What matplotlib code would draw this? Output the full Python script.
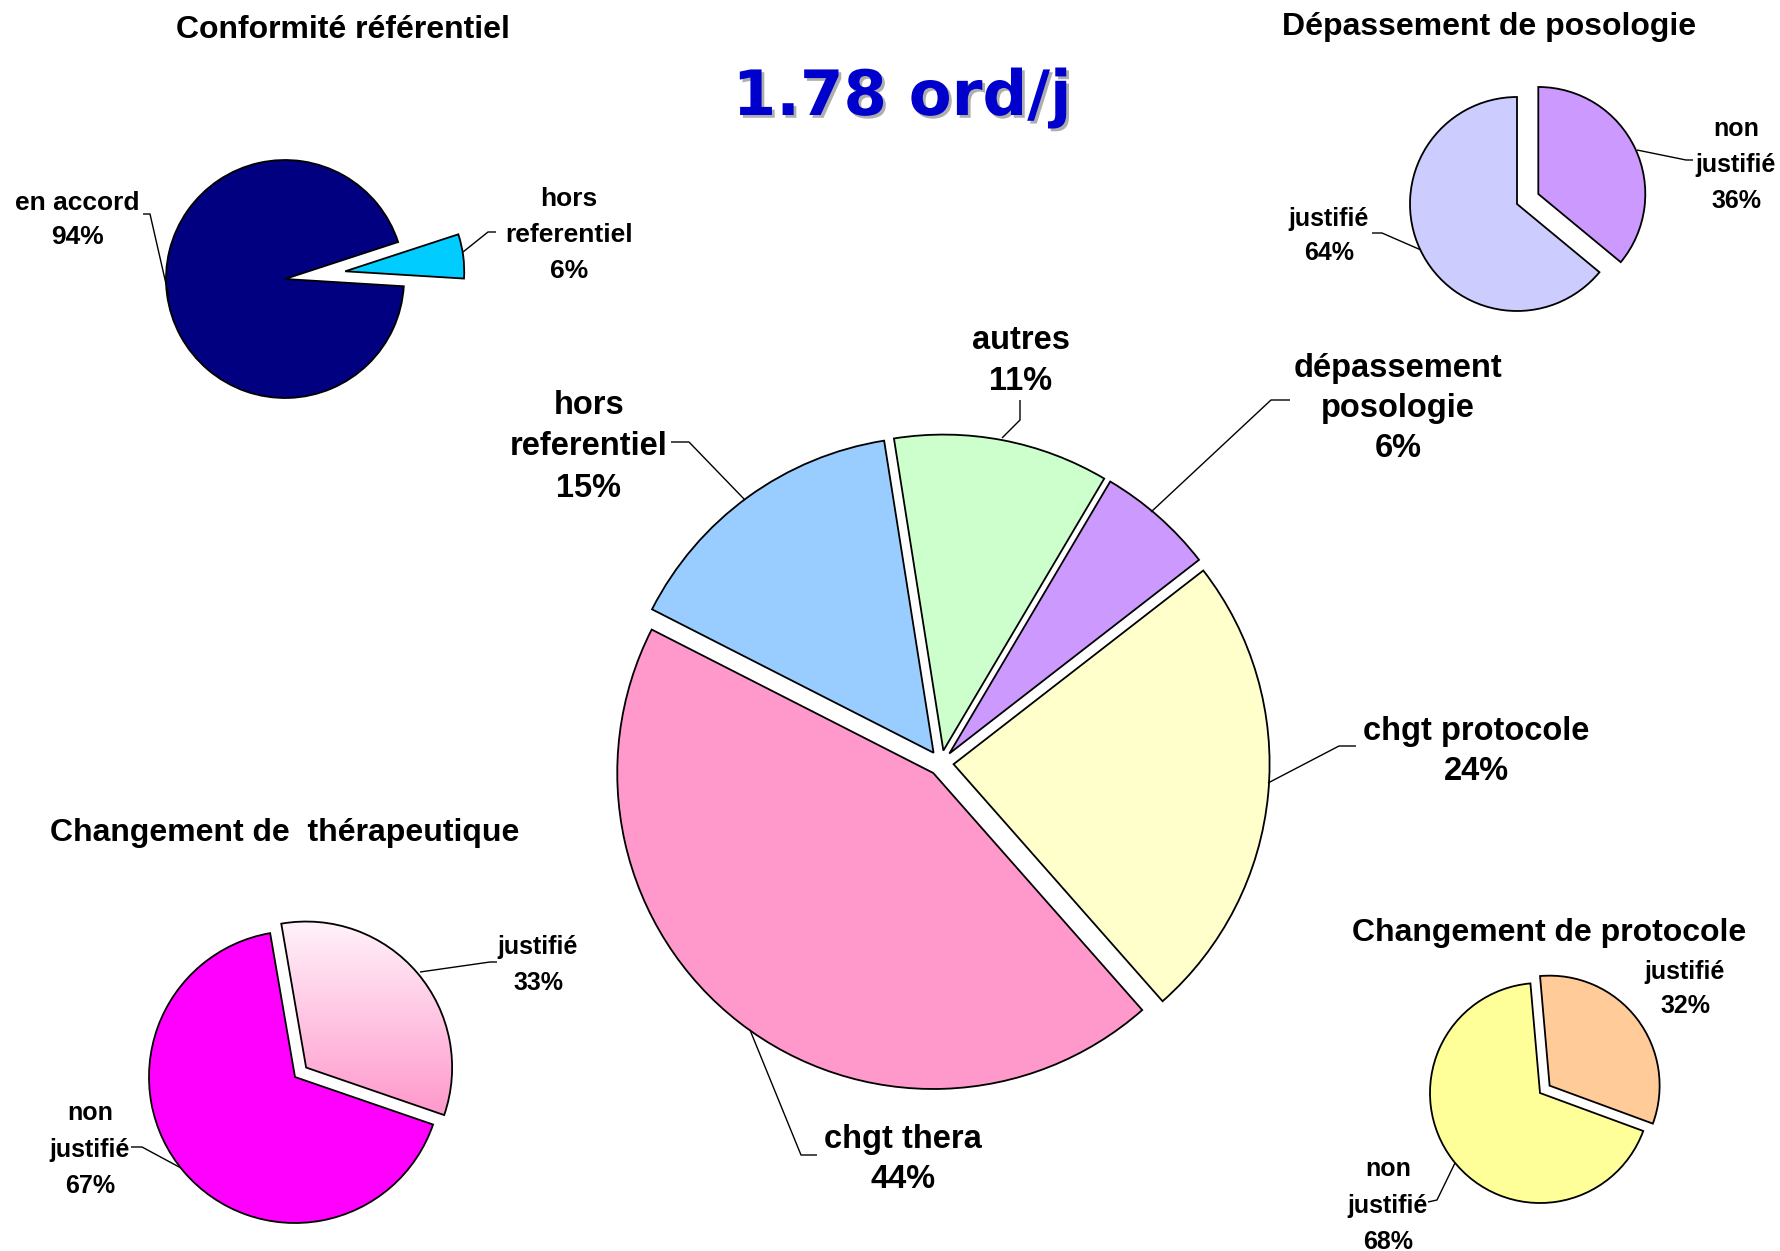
import matplotlib
matplotlib.use("Agg")
import matplotlib.pyplot as plt
import matplotlib.patheffects as pe
import numpy as np

W, H = 1780, 1251

# ---------------- data ----------------
headline = "1.78 ord/j"

main_labels = ["autres", "dépassement\nposologie", "chgt protocole", "chgt thera", "hors\nreferentiel"]
main_values = [11, 6, 24, 44, 15]
main_colors = ["#CCFFCC", "#CC99FF", "#FFFFCC", "#FF99CC", "#99CCFF"]

conf_title = "Conformité référentiel"
conf_labels = ["en accord", "hors\nreferentiel"]
conf_values = [94, 6]
conf_colors = ["#000080", "#00CCFF"]

depass_title = "Dépassement de posologie"
depass_labels = ["non\njustifié", "justifié"]
depass_values = [36, 64]
depass_colors = ["#CC99FF", "#CCCCFF"]

thera_title = "Changement de  thérapeutique"
thera_labels = ["justifié", "non\njustifié"]
thera_values = [33, 67]
thera_colors = ["#FF99CC", "#FF00FF"]
thera_gradient = ["#FFF3FA", "#FF99CC"]

proto_title = "Changement de protocole"
proto_labels = ["justifié", "non\njustifié"]
proto_values = [32, 68]
proto_colors = ["#FFCC99", "#FFFF99"]

FONT = "Liberation Sans"

fig = plt.figure(figsize=(W / 100, H / 100), dpi=100)
ax = fig.add_axes([0, 0, 1, 1])


def Y(y):
    return H - y


def draw_pie(values, colors, center, r, start, expl_frac):
    cx, cy = center
    wedges, _ = ax.pie(values, colors=colors, startangle=start, counterclock=False,
                       explode=[f * r for f in expl_frac], center=(cx, Y(cy)), radius=r,
                       wedgeprops=dict(edgecolor="black", linewidth=1.3), frame=True)
    return wedges


def put_label(x, y_first, text, value, step, size):
    lines = text.split("\n") + [f"{value}%"]
    fs_px = size / 0.72
    for i, line in enumerate(lines):
        ax.text(x, Y(y_first + i * step + 0.36 * fs_px), line, ha="center", va="baseline",
                fontsize=size, fontweight="bold", family=FONT, color="black")


def leader(pts):
    xs = [p[0] for p in pts]
    ys = [Y(p[1]) for p in pts]
    ax.plot(xs, ys, color="black", lw=1.0, solid_capstyle="butt")


def title(x, y_caps, text, size=23):
    ax.text(x, Y(y_caps + 0.36 * size / 0.72), text, ha="center", va="baseline",
            fontsize=size, fontweight="bold", family=FONT, color="black")


# ---------------- main pie ----------------
draw_pie(main_values, main_colors, (941, 763), 316, 99, [0.04] * 5)
main_pos = [(1021, 337, 41), (1398, 365, 40), (1476, 728, 40), (903, 1136, 40), (589, 402, 41.5)]
for (x, y, st), lab, v in zip(main_pos, main_labels, main_values):
    put_label(x, y, lab, v, st, 23.5)
leader([(1020, 400), (1020, 420), (1002, 438)])
leader([(1290, 400), (1271, 400), (1151, 512)])
leader([(1356, 746), (1339, 746), (1268, 783)])
leader([(750, 1030), (801, 1155), (817, 1155)])
leader([(671, 442), (689, 442), (745, 500)])

# ---------------- Conformité référentiel ----------------
draw_pie(conf_values, conf_colors, (285, 279), 119, -3.5, [0, 0.51])
title(343, 26, conf_title)
put_label(77, 200, conf_labels[0], conf_values[0], 34, 19)
put_label(569, 197, conf_labels[1], conf_values[1], 35.5, 19)
leader([(143, 214), (150, 214), (169, 297)])
leader([(463, 252), (488, 232), (496, 232)])

# ---------------- Dépassement de posologie ----------------
draw_pie(depass_values, depass_colors, (1517, 204), 107, 90, [0.22, 0])
title(1489, 23, depass_title)
put_label(1736, 127, depass_labels[0], depass_values[0], 36, 18)
put_label(1329, 217, depass_labels[1], depass_values[1], 34, 18)
leader([(1637, 150), (1686, 160), (1693, 160)])
leader([(1372, 233), (1382, 233), (1421, 250)])

# ---------------- Changement de thérapeutique ----------------
tw = draw_pie(thera_values, thera_colors, (295, 1077), 146, 99.8, [0.1, 0])
title(285, 830, thera_title)
put_label(538, 945, thera_labels[0], thera_values[0], 36, 18)
put_label(90, 1111, thera_labels[1], thera_values[1], 36.5, 18)
leader([(420, 972), (490, 962), (497, 962)])
leader([(131, 1147), (142, 1147), (181, 1168)])

g = tw[0]
verts = g.get_path().vertices
x0, x1 = verts[:, 0].min(), verts[:, 0].max()
y0, y1 = verts[:, 1].min(), verts[:, 1].max()
c_top = np.array(matplotlib.colors.to_rgb(thera_gradient[0]))
c_bot = np.array(matplotlib.colors.to_rgb(thera_gradient[1]))
t = np.linspace(0, 1, 256)[:, None]
grad = (c_top[None, :] * (1 - t) + c_bot[None, :] * t)[:, None, :]
img = ax.imshow(grad, extent=(x0, x1, y0, y1), origin="upper", aspect="auto", zorder=0.5,
                interpolation="bilinear")
img.set_clip_path(g)
g.set_facecolor("none")

# ---------------- Changement de protocole ----------------
draw_pie(proto_values, proto_colors, (1540, 1093), 110, 95, [0.11, 0])
title(1549, 930, proto_title)
put_label(1685, 970, proto_labels[0], proto_values[0], 34, 18)
put_label(1388, 1167, proto_labels[1], proto_values[1], 36.5, 18)
leader([(1428, 1202), (1437, 1200), (1455, 1163)])

# ---------------- headline ----------------
ax.text(902, Y(115), headline, ha="center", va="baseline", fontsize=45, fontweight="bold",
        family="DejaVu Sans", color="#0000CC",
        path_effects=[pe.withSimplePatchShadow(offset=(2, -2), shadow_rgbFace="#9a9a9a", alpha=0.8)])

ax.set_xlim(0, W)
ax.set_ylim(0, H)
ax.set_aspect("equal")
ax.set_axis_off()
fig.savefig("out.png", dpi=100, facecolor="white")
